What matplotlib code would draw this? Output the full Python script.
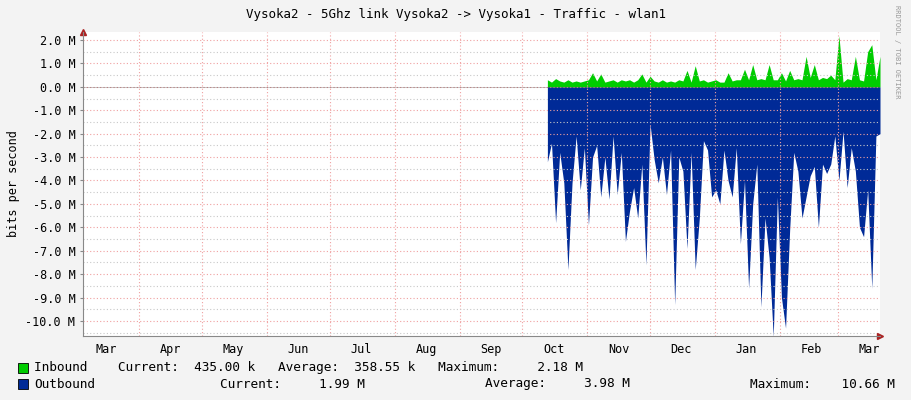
import numpy as np
import matplotlib
matplotlib.use("Agg")
import matplotlib.pyplot as plt
from datetime import datetime, timedelta

# values, in Mbit/s, evenly spaced from Oct 13 to Mar 21
outbound = [3.2, 2.4, 5.8, 2.8, 4.1, 7.8, 4.1, 2.1, 4.4, 2.6, 5.9, 3.0, 2.5, 4.7, 3.0,
            4.8, 2.1, 4.6, 2.8, 6.6, 5.3, 4.3, 5.6, 3.3, 7.6, 1.6, 3.1, 4.1, 3.0, 4.6,
            2.7, 9.3, 3.0, 3.6, 6.9, 2.8, 7.8, 5.6, 2.3, 2.7, 4.7, 4.4, 5.0, 2.7, 4.0,
            4.7, 2.6, 6.7, 4.0, 8.6, 5.0, 3.3, 9.4, 5.6, 7.3, 10.66, 4.7, 9.0, 10.3, 6.1,
            2.8, 3.6, 5.6, 4.7, 3.8, 3.4, 6.0, 3.3, 3.7, 3.3, 2.1, 4.0, 1.9, 4.3, 2.6,
            3.6, 6.0, 6.4, 4.4, 8.6, 2.1, 2.0]
inbound = [0.3, 0.2, 0.35, 0.25, 0.2, 0.3, 0.2, 0.25, 0.2, 0.25, 0.3, 0.6, 0.25, 0.55, 0.2,
           0.25, 0.3, 0.2, 0.3, 0.25, 0.3, 0.2, 0.3, 0.55, 0.2, 0.45, 0.25, 0.2, 0.3, 0.2,
           0.25, 0.2, 0.3, 0.25, 0.7, 0.2, 0.9, 0.25, 0.3, 0.2, 0.25, 0.3, 0.2, 0.2, 0.6,
           0.25, 0.3, 0.3, 0.75, 0.3, 0.95, 0.3, 0.35, 0.3, 0.95, 0.3, 0.3, 0.6, 0.25, 0.7,
           0.3, 0.35, 0.3, 1.3, 0.4, 0.95, 0.3, 0.4, 0.35, 0.5, 0.3, 2.18, 0.2, 0.35, 0.3,
           1.3, 0.3, 0.25, 1.5, 1.8, 0.3, 1.3, 0.5, 0.45]
months = ["Mar", "Apr", "May", "Jun", "Jul", "Aug", "Sep", "Oct", "Nov", "Dec", "Jan", "Feb", "Mar"]

n = min(len(outbound), len(inbound))
t0 = datetime(2013, 10, 13)
t1 = datetime(2014, 3, 21)
span = (t1 - t0).total_seconds()
xs = [t0 + timedelta(seconds=span * i / (n - 1)) for i in range(n)]
outv = -np.array(outbound[:n])
inv = np.array(inbound[:n])

mono = "DejaVu Sans Mono"
fig = plt.figure(figsize=(9.11, 4.0), dpi=100, facecolor="#f3f3f3")
ax = fig.add_axes([83 / 911, 64 / 400, 797 / 911, 304 / 400])
ax.set_facecolor("white")

ax.fill_between(xs, 0, outv, color="#002a97", lw=0)
ax.fill_between(xs, 0, inv, color="#00cc00", lw=0)

ax.set_xlim(datetime(2013, 3, 5), datetime(2014, 3, 21))
ax.set_ylim(-10.64, 2.34)

# month grid at month starts, labels in month middles
starts = [datetime(2013 + (m + 2) // 12, (m + 2) % 12 + 1, 1) for m in range(13)]
for s in starts[1:]:
    ax.axvline(s, color="#f0a0a0", ls=(0, (1, 2)), lw=0.8)
ax.set_xticks([s + timedelta(days=15) for s in starts])
ax.set_xticklabels(months, fontfamily=mono, fontsize=8.5)
ax.tick_params(axis="x", length=0, pad=5)

yt = np.arange(-10, 3, 1.0)
for v in np.arange(-10.5, 2.5, 0.5):
    ax.axhline(v, color="#f0a0a0" if v % 1 == 0 else "#c8c8c8", ls=(0, (1, 2)), lw=0.8)
ax.axhline(0, color="#202020", lw=0.6, alpha=0.3)
ax.set_yticks(yt)
ax.set_yticklabels(["%.1f M" % v for v in yt], fontfamily=mono, fontsize=8.5)
ax.tick_params(axis="y", length=2, color="#888888")
ax.set_ylabel("bits per second", fontfamily=mono, fontsize=8.5)

for side in ["top", "right"]:
    ax.spines[side].set_visible(False)
ax.spines["bottom"].set_color("#888888")
ax.spines["left"].set_color("#888888")
ax.plot(1.0, 0, ">", color="#aa2222", ms=4, transform=ax.transAxes, clip_on=False)
ax.plot(0, 1.0, "^", color="#aa2222", ms=4, transform=ax.transAxes, clip_on=False)

fig.text(0.5, 0.963, "Vysoka2 - 5Ghz link Vysoka2 -> Vysoka1 - Traffic - wlan1",
         ha="center", va="center", fontfamily=mono, fontsize=9)
fig.text(0.985, 0.87, "RRDTOOL / TOBI OETIKER", rotation=270, ha="center", va="center",
         fontfamily=mono, fontsize=5, color="#999999")

for yc, col in [(0.08, "#00cc00"), (0.04, "#002a97")]:
    fig.patches.append(plt.Rectangle((18 / 911, yc - 5 / 400), 10 / 911, 10 / 400,
                                     transform=fig.transFigure, facecolor=col,
                                     edgecolor="black", lw=0.6))
fs = 9.2
fig.text(34 / 911, 0.08, "Inbound    Current:  435.00 k   Average:  358.55 k   Maximum:     2.18 M",
         fontfamily=mono, fontsize=fs, va="center")
fig.text(34 / 911, 0.04, "Outbound", fontfamily=mono, fontsize=fs, va="center")
fig.text(220 / 911, 0.04, "Current:     1.99 M", fontfamily=mono, fontsize=fs, va="center")
fig.text(485 / 911, 0.04, "Average:     3.98 M", fontfamily=mono, fontsize=fs, va="center")
fig.text(750 / 911, 0.04, "Maximum:    10.66 M", fontfamily=mono, fontsize=fs, va="center")

fig.savefig("out.png", dpi=100, facecolor=fig.get_facecolor())
